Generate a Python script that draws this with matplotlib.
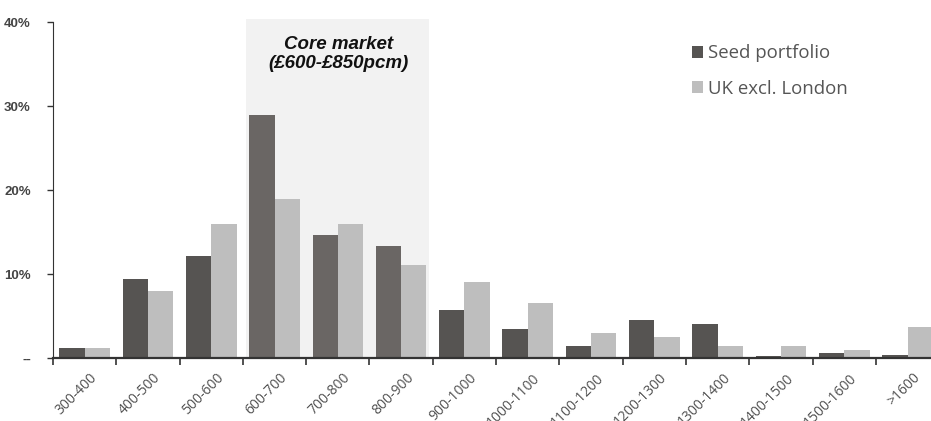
import matplotlib
matplotlib.use("Agg")
import matplotlib.pyplot as plt
import numpy as np
from matplotlib.patches import Rectangle

categories = ["300-400", "400-500", "500-600", "600-700", "700-800", "800-900",
              "900-1000", "1000-1100", "1100-1200", "1200-1300", "1300-1400",
              "1400-1500", "1500-1600", ">1600"]
seed_portfolio = [1.2, 9.4, 12.1, 29.0, 14.6, 13.3, 5.7, 3.5, 1.4, 4.5, 4.1, 0.2, 0.6, 0.4]
uk_excl_london = [1.2, 8.0, 16.0, 19.0, 16.0, 11.1, 9.0, 6.5, 3.0, 2.5, 1.4, 1.4, 1.0, 3.7]
y_ticks = [0, 10, 20, 30, 40]
y_tick_labels = ["--", "10%", "20%", "30%", "40%"]
core_start, core_end = 2.55, 5.44

W, H = 931, 421
fig = plt.figure(figsize=(W / 100, H / 100), dpi=100)
left = 53 / W
bottom = 1 - 358 / H
height = (358 - 19) / H
width = 14 * 63.3 / W
ax = fig.add_axes([left, bottom, width, height])

x = np.arange(len(categories))
bw = 0.4

# shaded core-market band
ax.add_patch(Rectangle((core_start, 0), core_end - core_start, 40.4,
                       facecolor="#f2f2f2", edgecolor="none", zorder=0))

dark_cols = ["#6a6664" if core_start < xi < core_end else "#565452" for xi in x]
ax.bar(x - bw / 2, seed_portfolio, bw, color=dark_cols, label="Seed portfolio", zorder=2)
ax.bar(x + bw / 2, uk_excl_london, bw, color="#bebebe", label="UK excl. London", zorder=2)

ax.text((core_start + core_end) / 2 + 0.02, 36.2, "Core market\n(£600-£850pcm)",
        ha="center", va="center", fontsize=13.5, fontweight="bold", style="italic",
        family="Liberation Sans", color="#111111", linespacing=1.15)

ax.set_xlim(-0.5, 13.5)
ax.set_ylim(0, 40.4)
for s in ["top", "right"]:
    ax.spines[s].set_visible(False)
ax.spines["left"].set_bounds(0, 40)
ax.spines["left"].set_color("#333333")
ax.spines["bottom"].set_color("#333333")
ax.spines["bottom"].set_linewidth(1.6)

ax.set_yticks(y_ticks)
ax.set_yticklabels(y_tick_labels, fontsize=9.5, fontweight="bold",
                   family="Liberation Sans", color="#444444")
ax.tick_params(axis="y", length=4, width=1, color="#333333", pad=12)

ax.set_xticks(x + 0.08)
ax.set_xticklabels(categories, rotation=45, ha="right", rotation_mode="anchor",
                   fontsize=10, family="Open Sans", color="#505050")
ax.tick_params(axis="x", which="major", length=0, pad=9)
ax.set_xticks(np.arange(-0.5, 14, 1), minor=True)
ax.tick_params(axis="x", which="minor", length=5, width=1.2, color="#333333")

leg = ax.legend(loc="upper left", bbox_to_anchor=((675 - 53) / (14 * 63.3), 0.975),
                frameon=False, handlelength=0.6, handleheight=0.6,
                handletextpad=0.25, labelspacing=0.95,
                prop={"family": "Open Sans", "size": 13.4})
for t in leg.get_texts():
    t.set_color("#555555")

fig.savefig("out.png", dpi=100)
